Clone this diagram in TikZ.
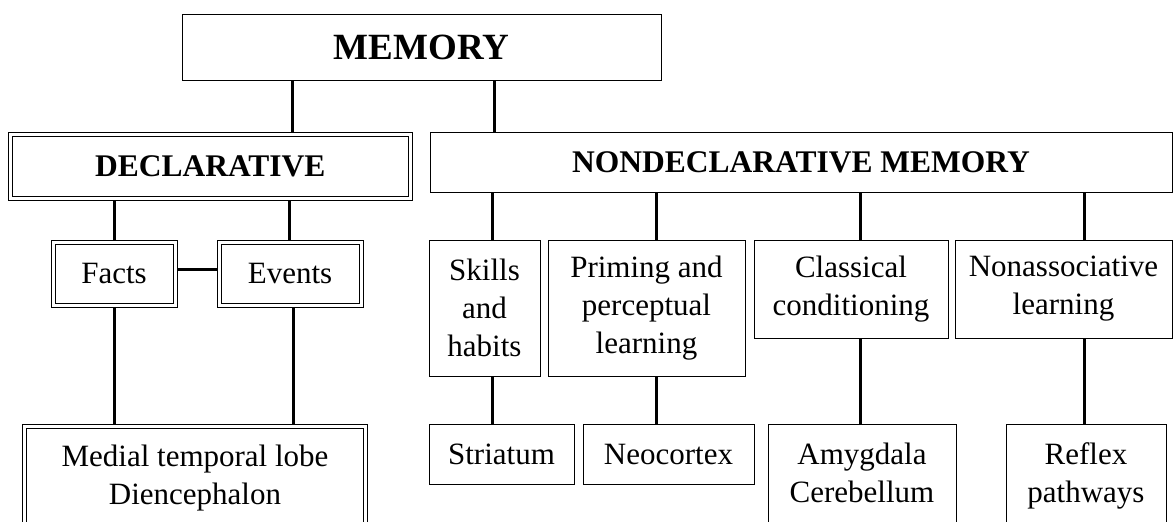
\documentclass[tikz,border=0pt]{standalone}
\usepackage{fontspec}
\setmainfont{Liberation Serif}
\usetikzlibrary{backgrounds}
\tikzset{
    x=1pt, y=-1pt, % one unit is one pixel, y runs downwards
    box/.style={draw, fill=white, line width=1pt, inner sep=0pt, align=center,
        font=\fontsize{31}{38}\selectfont}, % the plain boxes
    dbox/.style={box, double, double distance=3pt}, % boxes with a double frame
    head/.style={font=\fontsize{31.5}{38}\selectfont\bfseries}, % bold headings
    openbox/.style={anchor=north, inner ysep=18.5pt, text depth=80pt}, % boxes cut by the lower edge
    link/.style={line width=3pt}, % the thick joining lines
}

\begin{document}
\begin{tikzpicture}
    \useasboundingbox (0,0) rectangle (1173,522);
    \clip (0,0) rectangle (1173,522);

    % top
    \node[box, font=\fontsize{37}{44}\selectfont\bfseries, minimum width=479pt, minimum height=66pt] (memory) at (421.5,47) {MEMORY};
    \node[dbox, head, minimum width=399.5pt, minimum height=64pt] (decl) at (210.25,166.5) {DECLARATIVE};
    \node[box, head, minimum width=742pt, minimum height=60pt] (nondecl) at (801,162) {NONDECLARATIVE MEMORY};

    % declarative side
    \node[dbox, minimum width=122pt, minimum height=63pt] (facts) at (114,273.5) {Facts};
    \node[dbox, minimum width=142pt, minimum height=63pt] (events) at (290,273.5) {Events};
    \node[dbox, openbox, minimum width=341pt] (mtl) at (195,425.5) {Medial temporal lobe\\Diencephalon};

    % nondeclarative side
    \node[box, minimum width=111pt, minimum height=136pt] (skills) at (484.5,308) {Skills\\and\\habits};
    \node[box, minimum width=197pt, minimum height=136pt] (priming) at (646.5,308) {Priming and\\perceptual\\learning};
    \node[box, minimum width=194pt, minimum height=98pt] (classical) at (851,289) {Classical\\conditioning};
    \node[box, minimum width=217pt, minimum height=98pt] (nonassoc) at (1063.5,289) {Nonassociative\\learning};

    \node[box, minimum width=145pt, minimum height=60pt] (striatum) at (501.5,454) {Striatum};
    \node[box, minimum width=171pt, minimum height=60pt] (neocortex) at (668.5,454) {Neocortex};
    \node[box, openbox, minimum width=188pt] (amygdala) at (862,424) {Amygdala\\Cerebellum};
    \node[box, openbox, minimum width=160pt] (reflex) at (1086,424) {Reflex\\pathways};

    \begin{pgfonlayer}{background}
        \draw[link] (memory.south -| 292,0) -- (decl.north -| 292,0);
        \draw[link] (memory.south -| 494,0) -- (nondecl.north -| 494,0);
        \draw[link] (decl.south -| 114,0) -- (facts.north -| 114,0);
        \draw[link] (decl.south -| 289,0) -- (events.north -| 289,0);
        \draw[link] (facts.east |- 0,269) -- (events.west |- 0,269);
        \draw[link] (facts.south -| 114,0) -- (mtl.north -| 114,0);
        \draw[link] (events.south -| 293,0) -- (mtl.north -| 293,0);
        \draw[link] (nondecl.south -| 492,0) -- (skills.north -| 492,0);
        \draw[link] (nondecl.south -| 656,0) -- (priming.north -| 656,0);
        \draw[link] (nondecl.south -| 860,0) -- (classical.north -| 860,0);
        \draw[link] (nondecl.south -| 1084,0) -- (nonassoc.north -| 1084,0);
        \draw[link] (skills.south -| 492,0) -- (striatum.north -| 492,0);
        \draw[link] (priming.south -| 656,0) -- (neocortex.north -| 656,0);
        \draw[link] (classical.south -| 860,0) -- (amygdala.north -| 860,0);
        \draw[link] (nonassoc.south -| 1084,0) -- (reflex.north -| 1084,0);
    \end{pgfonlayer}
\end{tikzpicture}
\end{document}
